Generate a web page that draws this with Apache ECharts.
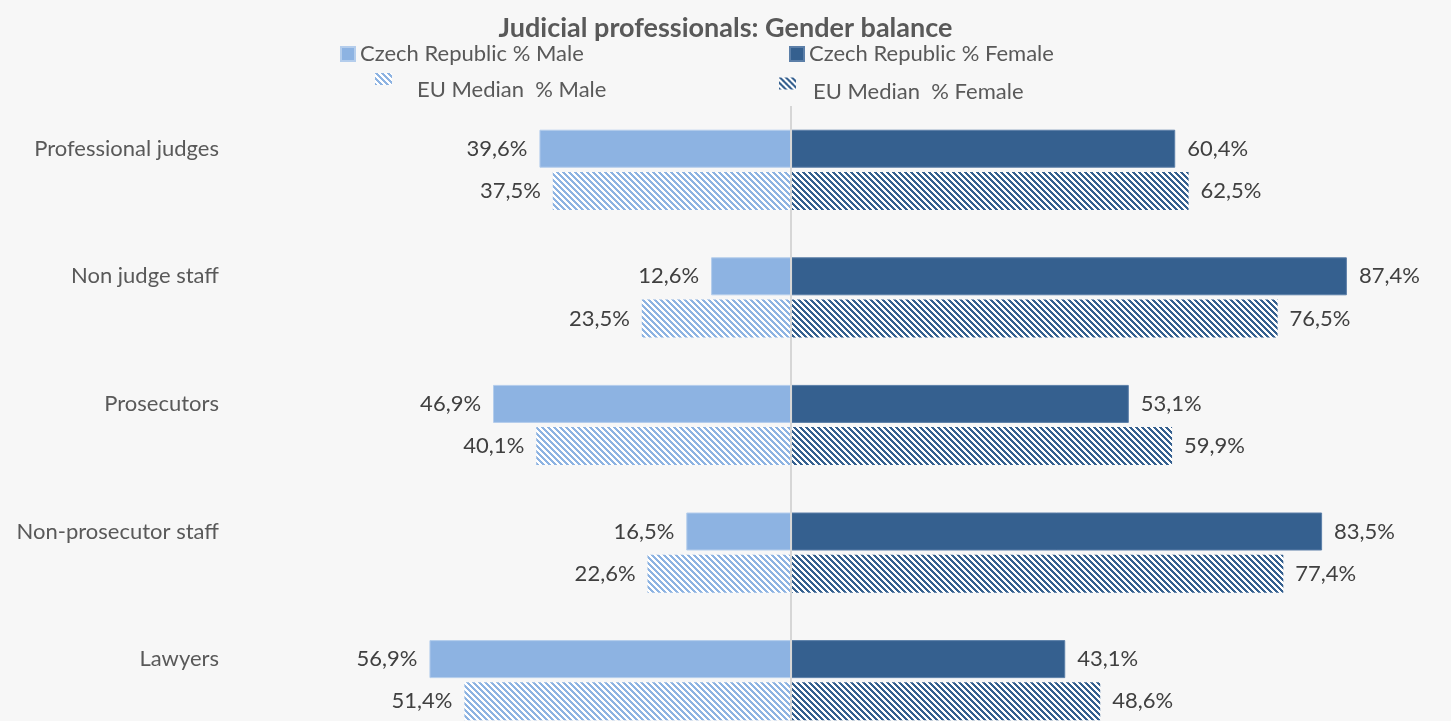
<!DOCTYPE html>
<html>
<head>
<meta charset="utf-8">
<title>Judicial professionals: Gender balance</title>
<script src="https://cdn.jsdelivr.net/npm/echarts@6/dist/echarts.min.js"></script>
<style>
  html, body { margin: 0; padding: 0; background: #f7f7f7; overflow: hidden; }
  /* the original chart is cut off at the bottom, so the canvas runs past the window */
  #chart { width: 1451px; height: 744px; }
</style>
</head>
<body>
<div id="chart"></div>
<script>
// data (percentages)
const categories = ['Professional judges', 'Non judge staff', 'Prosecutors', 'Non-prosecutor staff', 'Lawyers'];
const czMale = [39.6, 12.6, 46.9, 16.5, 56.9];
const czFemale = [60.4, 87.4, 53.1, 83.5, 43.1];
const euMale = [37.5, 23.5, 40.1, 22.6, 51.4];
const euFemale = [62.5, 76.5, 59.9, 77.4, 48.6];
const seriesNames = ['Czech Republic % Male', 'Czech Republic % Female', 'EU Median  % Male', 'EU Median  % Female'];

const LIGHT = '#8db3e2';
const DARK = '#35608f';
const FONT = 'Lato';

// excel style "wide downward diagonal" hatch
function hatch(color) {
  const size = 6;
  const c = document.createElement('canvas');
  c.width = size;
  c.height = size;
  const ctx = c.getContext('2d');
  ctx.fillStyle = '#ffffff';
  ctx.fillRect(0, 0, size, size);
  ctx.fillStyle = color;
  for (let y = 0; y < size; y++) {
    for (let x = 0; x < size; x++) {
      if (((x - y) % size + size) % size < 3) ctx.fillRect(x, y, 1, 1);
    }
  }
  return { image: c, repeat: 'repeat' };
}

function pct(p) {
  return Math.abs(p.value).toFixed(1).replace('.', ',') + '%';
}

function labelOf(pos) {
  return {
    show: true,
    position: pos,
    distance: 12,
    formatter: pct,
    fontFamily: FONT,
    fontSize: 22,
    color: '#404040'
  };
}

const chart = echarts.init(document.getElementById('chart'));

const legendText = { fontFamily: FONT, fontSize: 22, color: '#595959', lineHeight: 22 };

chart.setOption({
  animation: false,
  backgroundColor: '#f7f7f7',
  title: {
    text: 'Judicial professionals: Gender balance',
    left: 'center',
    top: 14,
    padding: 0,
    textStyle: { fontFamily: FONT, fontSize: 27, fontWeight: 'bold', color: '#595959', lineHeight: 28 }
  },
  legend: [
    {
      data: [seriesNames[0]], left: 340, top: 43, padding: 0, selectedMode: false,
      itemWidth: 14, itemHeight: 14, icon: 'rect', textStyle: legendText
    },
    {
      data: [seriesNames[1]], left: 789, top: 43, padding: 0, selectedMode: false,
      itemWidth: 14, itemHeight: 14, icon: 'rect', textStyle: legendText
    },
    {
      // text sits lower than the hatch icon, as in the original
      data: [seriesNames[2]], left: 375, top: 57, padding: 0, selectedMode: false,
      itemWidth: 17, itemHeight: 12, icon: 'rect',
      formatter: name => '\n' + name,
      textStyle: Object.assign({}, legendText, { padding: [0, 0, 0, 20] })
    },
    {
      data: [seriesNames[3]], left: 779, top: 64, padding: 0, selectedMode: false,
      itemWidth: 17, itemHeight: 12, icon: 'rect',
      formatter: name => '\n' + name,
      textStyle: Object.assign({}, legendText, { lineHeight: 17, padding: [0, 0, 0, 12] })
    }
  ],
  grid: { left: 219, right: 24, top: 106, bottom: 0, containLabel: false },
  xAxis: {
    type: 'value',
    min: -90,
    max: 100,
    show: false
  },
  yAxis: {
    type: 'category',
    inverse: true,
    data: categories,
    axisLine: { show: false },
    axisTick: { show: false },
    splitLine: { show: false },
    axisLabel: {
      margin: 0,
      fontFamily: FONT,
      fontSize: 22,
      color: '#595959',
      lineHeight: 42,
      // label lines up with the Czech bar, not the middle of the pair
      formatter: v => v + '\n '
    }
  },
  series: [
    {
      name: seriesNames[0],
      type: 'bar',
      stack: 'cz',
      barWidth: 38,
      barGap: '11%',
      data: czMale.map(v => -v),
      itemStyle: { color: LIGHT, borderColor: '#b4cdec', borderWidth: 1 },
      label: labelOf('left'),
      markLine: {
        silent: true,
        symbol: ['none', 'none'],
        label: { show: false },
        lineStyle: { color: '#d6d6d6', width: 2, type: 'solid' },
        data: [{ xAxis: 0 }]
      }
    },
    {
      name: seriesNames[1],
      type: 'bar',
      stack: 'cz',
      barWidth: 38,
      data: czFemale,
      itemStyle: { color: DARK, borderColor: '#5c7fa8', borderWidth: 1 },
      label: labelOf('right')
    },
    {
      name: seriesNames[2],
      type: 'bar',
      stack: 'eu',
      barWidth: 38,
      data: euMale.map(v => -v),
      itemStyle: { color: hatch(LIGHT) },
      label: labelOf('left')
    },
    {
      name: seriesNames[3],
      type: 'bar',
      stack: 'eu',
      barWidth: 38,
      data: euFemale,
      itemStyle: { color: hatch(DARK) },
      label: labelOf('right')
    }
  ]
});
</script>
</body>
</html>
